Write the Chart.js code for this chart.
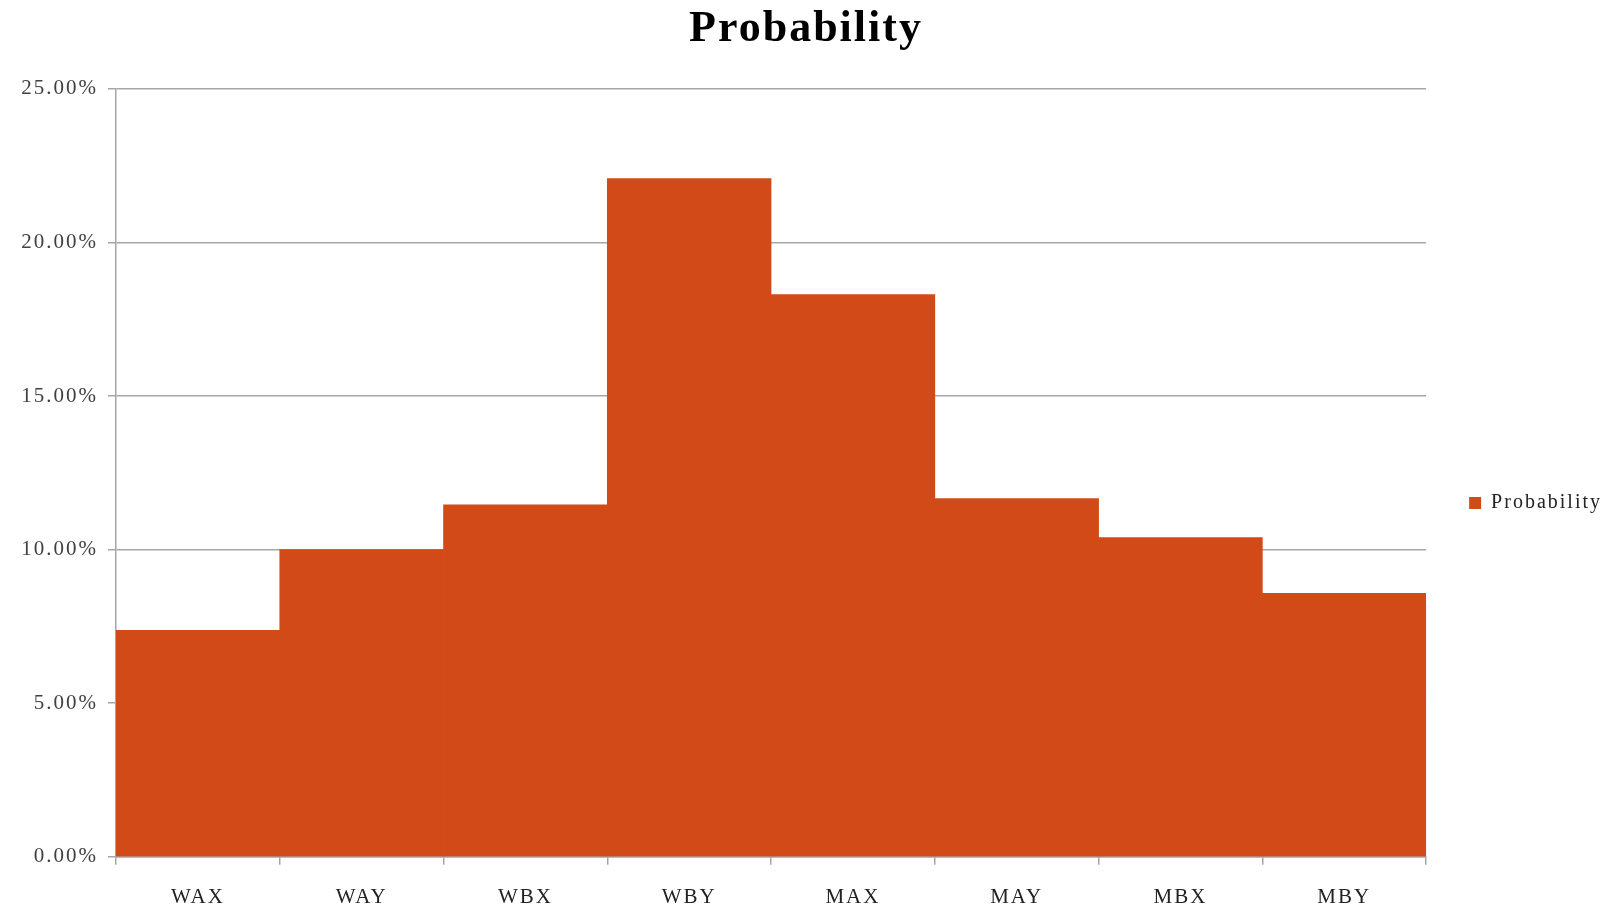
<!DOCTYPE html>
<html>
<head>
<meta charset="utf-8">
<script src="https://cdn.jsdelivr.net/npm/chart.js@4"></script>
<style>
  body { margin: 0; background: #fff; }
  #wrap { width: 1614px; height: 910px; }
</style>
</head>
<body>
<div id="wrap"><canvas id="probabilityChart"></canvas></div>
<script>
const categories = ["WAX", "WAY", "WBX", "WBY", "MAX", "MAY", "MBX", "MBY"];
const probability = [7.37, 10.0, 11.46, 22.08, 18.30, 11.66, 10.39, 8.58];
const yTicks = [0, 5, 10, 15, 20, 25];

const serif = "'Liberation Serif', 'DejaVu Serif', serif";

// the original uses a wide-set serif, so space the letters out a little
const spacing = {
    id: "spacing",
    beforeLayout(chart) { chart.ctx.letterSpacing = "2px"; },
    beforeDraw(chart) { chart.ctx.letterSpacing = "2px"; }
};

document.addEventListener("DOMContentLoaded", () => {
    const ctx = document.getElementById("probabilityChart");
    if (!ctx) return;

    new Chart(ctx, {
        type: "bar",
        plugins: [spacing],
        data: {
            labels: categories,
            datasets: [
                {
                    label: "Probability",
                    data: probability,
                    backgroundColor: "#D24A18",
                    borderWidth: 0,
                    barPercentage: 1,
                    categoryPercentage: 1
                }
            ]
        },
        options: {
            responsive: true,
            maintainAspectRatio: false,
            animation: false,
            layout: {
                padding: { left: 0, right: 2, top: 0, bottom: -20 }
            },
            plugins: {
                title: {
                    display: true,
                    text: "Probability",
                    color: "#000",
                    font: { family: serif, size: 44, weight: "bold" },
                    padding: { top: 3, bottom: 33 }
                },
                legend: {
                    position: "right",
                    // empty title only pushes the single entry down to mid-height
                    title: {
                        display: true,
                        text: " ",
                        font: { size: 10 },
                        padding: { top: 32, bottom: 32 }
                    },
                    labels: {
                        boxWidth: 12,
                        boxHeight: 12,
                        padding: 43,
                        color: "#222",
                        font: { family: serif, size: 20 }
                    }
                },
                tooltip: { enabled: false }
            },
            scales: {
                y: {
                    min: 0,
                    max: 25,
                    afterBuildTicks: (scale) => {
                        scale.ticks = yTicks.map(v => ({ value: v }));
                    },
                    afterFit: (scale) => {
                        scale.width = 116;
                    },
                    ticks: {
                        color: "#404040",
                        padding: 10,
                        font: { family: serif, size: 21 },
                        callback: (v) => v.toFixed(2) + "%"
                    },
                    grid: {
                        color: "#a6a6a6",
                        lineWidth: 1.5,
                        tickLength: 8
                    },
                    border: { color: "#a6a6a6", width: 1.5 }
                },
                x: {
                    ticks: {
                        color: "#222",
                        padding: 20,
                        font: { family: serif, size: 21 }
                    },
                    grid: {
                        offset: true,
                        drawOnChartArea: false,
                        color: "#a6a6a6",
                        lineWidth: 1.5,
                        tickLength: 8
                    },
                    border: { color: "#a6a6a6", width: 1.5 }
                }
            }
        }
    });
});
</script>
</body>
</html>
